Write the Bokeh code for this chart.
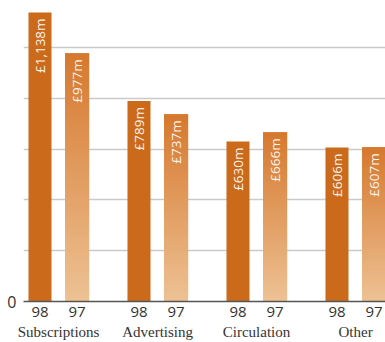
import math

from bokeh.core.properties import value
from bokeh.embed import file_html
from bokeh.models import ColumnDataSource, FixedTicker, LinearAxis, Range1d
from bokeh.plotting import figure
from bokeh.resources import INLINE

# Revenue by source, £ millions
categories = ["Subscriptions", "Advertising", "Circulation", "Other"]
years = ["98", "97"]
values_98 = [1138, 789, 630, 606]
values_97 = [977, 737, 666, 607]

GROUP_STEP = 8      # x units between groups
PAIR_OFFSET = 3     # x units between the two bars of a group
W98, W97 = 1.86, 1.94

SOLID = "#CB6A1B"
GRAD_TOP = (214, 121, 47)
GRAD_BOTTOM = (237, 193, 147)
STEPS = 60

p = figure(
    width=385, height=342,
    x_range=Range1d(-1.333, 27.92), y_range=Range1d(0, 1185),
    output_backend="svg", toolbar_location=None,
    min_border_left=23, min_border_right=0, min_border_top=0, min_border_bottom=41,
    x_axis_location=None, y_axis_location=None,
)
p.outline_line_color = None
p.background_fill_color = "white"
p.border_fill_color = "white"

# horizontal guides
p.xgrid.visible = False
p.ygrid.ticker = FixedTicker(ticks=[200, 400, 600, 800, 1000])
p.ygrid.grid_line_color = "#c9c9ce"
p.ygrid.grid_line_width = 1.3

x98 = [i * GROUP_STEP for i in range(len(categories))]
x97 = [i * GROUP_STEP + PAIR_OFFSET for i in range(len(categories))]

# 1998: solid bars
p.vbar(x=x98, top=values_98, bottom=0, width=W98,
       fill_color=SOLID, line_color=None)

# 1997: bars shaded from dark at the top to light at the base;
# slices overlap so no seams show between them
segs = dict(left=[], right=[], bottom=[], top=[], color=[])
for x, v in zip(x97, values_97):
    for k in range(STEPS):
        t = k / (STEPS - 1)  # 0 at base, 1 at top
        r = round(GRAD_BOTTOM[0] + (GRAD_TOP[0] - GRAD_BOTTOM[0]) * t)
        g = round(GRAD_BOTTOM[1] + (GRAD_TOP[1] - GRAD_BOTTOM[1]) * t)
        b = round(GRAD_BOTTOM[2] + (GRAD_TOP[2] - GRAD_BOTTOM[2]) * t)
        segs["left"].append(x - W97 / 2)
        segs["right"].append(x + W97 / 2)
        segs["bottom"].append(v * k / STEPS)
        segs["top"].append(min(v, v * (k + 2) / STEPS))
        segs["color"].append(f"#{r:02x}{g:02x}{b:02x}")
p.quad(left="left", right="right", bottom="bottom", top="top",
       fill_color="color", line_color=None,
       source=ColumnDataSource(segs))

# value labels written up the inside of each bar
lab = ColumnDataSource(dict(
    x=x98 + x97,
    y=values_98 + values_97,
    text=[f"£{v:,}m" for v in values_98 + values_97],
))
p.text(x="x", y="y", text="text", source=lab, angle=math.pi / 2,
       text_align="right", text_baseline="middle", y_offset=6,
       text_color="#fbf3ec", text_font=value("Open Sans"),
       text_font_size="13.5px")

# y axis: only the zero label
yaxis = LinearAxis(ticker=FixedTicker(ticks=[0]))
yaxis.axis_line_color = None
yaxis.major_tick_line_color = None
yaxis.minor_tick_line_color = None
yaxis.major_tick_out = 0
yaxis.major_tick_in = 0
yaxis.major_label_standoff = 7
yaxis.major_label_text_font = "Open Sans"
yaxis.major_label_text_font_size = "16px"
yaxis.major_label_text_color = "#333333"
p.add_layout(yaxis, "left")

# x axis: year under each bar
bar_ticks = sorted(x98 + x97)
year_axis = LinearAxis(ticker=FixedTicker(ticks=bar_ticks))
year_axis.major_label_overrides = {
    **{x: years[0] for x in x98}, **{x: years[1] for x in x97}
}
year_axis.axis_line_color = "#555555"
year_axis.axis_line_width = 1.5
year_axis.major_tick_line_color = None
year_axis.minor_tick_line_color = None
year_axis.major_tick_out = 0
year_axis.major_tick_in = 0
year_axis.major_label_standoff = 5
year_axis.major_label_text_font = "Open Sans"
year_axis.major_label_text_font_size = "15px"
year_axis.major_label_text_color = "#333333"
p.add_layout(year_axis, "below")

# second row: category names centred under each pair
group_centres = [x + PAIR_OFFSET / 2 for x in x98]
cat_axis = LinearAxis(ticker=FixedTicker(ticks=group_centres))
cat_axis.major_label_overrides = dict(zip(group_centres, categories))
cat_axis.axis_line_color = None
cat_axis.major_tick_line_color = None
cat_axis.minor_tick_line_color = None
cat_axis.major_tick_out = 0
cat_axis.major_tick_in = 0
cat_axis.major_label_standoff = 4
cat_axis.major_label_text_font = "Liberation Serif"
cat_axis.major_label_text_font_size = "15px"
cat_axis.major_label_text_color = "#333333"
p.add_layout(cat_axis, "below")

open("out.html", "w").write(file_html(p, INLINE))
